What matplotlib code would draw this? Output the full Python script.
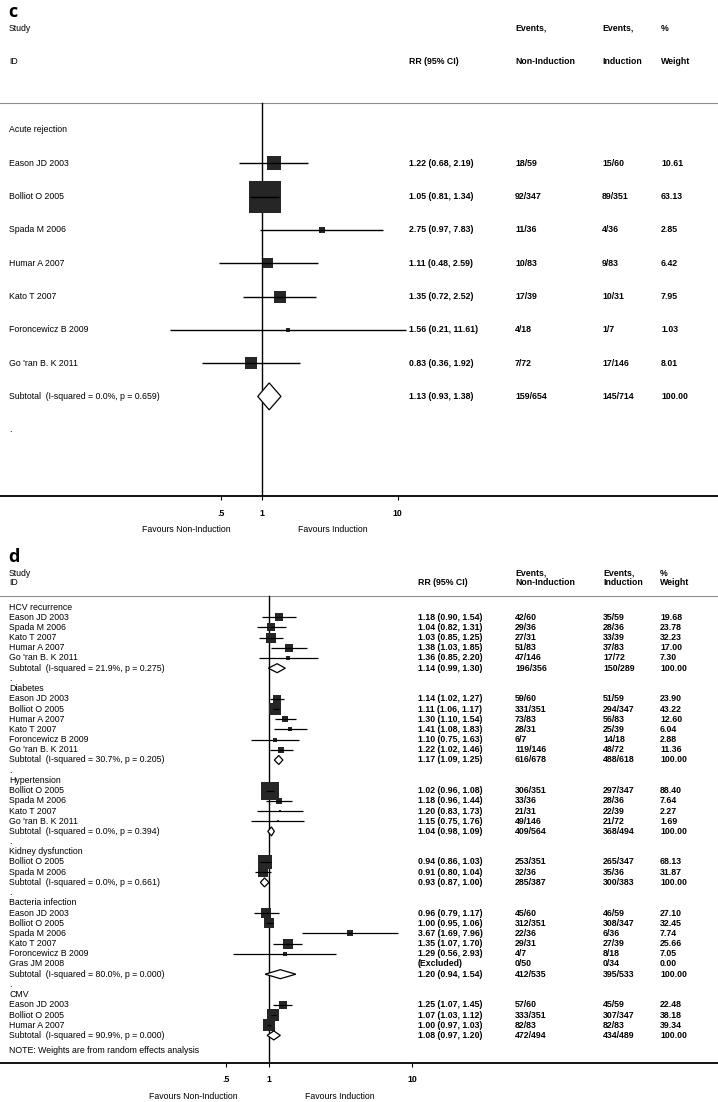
import numpy as np
import matplotlib.pyplot as plt
from matplotlib.transforms import blended_transform_factory

plt.rcParams['font.family'] = ['Liberation Sans', 'DejaVu Sans']

# ---------------- panel c : acute rejection ----------------
c_group = "Acute rejection"
c_study = ["Eason JD 2003", "Bolliot O 2005", "Spada M 2006", "Humar A 2007",
           "Kato T 2007", "Foroncewicz B 2009", "Go 'ran B. K 2011"]
c_rr = [1.22, 1.05, 2.75, 1.11, 1.35, 1.56, 0.83]
c_lo = [0.68, 0.81, 0.97, 0.48, 0.72, 0.21, 0.36]
c_hi = [2.19, 1.34, 7.83, 2.59, 2.52, 11.61, 1.92]
c_ev_non = ["18/59", "92/347", "11/36", "10/83", "17/39", "4/18", "7/72"]
c_ev_ind = ["15/60", "89/351", "4/36", "9/83", "10/31", "1/7", "17/146"]
c_weight = [10.61, 63.13, 2.85, 6.42, 7.95, 1.03, 8.01]
c_sub_i2 = "0.0%"
c_sub_p = "0.659"
c_sub_rr = [1.13, 0.93, 1.38]
c_sub_ev = ["159/654", "145/714"]

# ---------------- panel d : other outcomes ----------------
d_groups = ["HCV recurrence", "Diabetes", "Hypertension", "Kidney dysfunction",
            "Bacteria infection", "CMV"]
d_group_of = [0, 0, 0, 0, 0,
              1, 1, 1, 1, 1, 1,
              2, 2, 2, 2,
              3, 3,
              4, 4, 4, 4, 4, 4,
              5, 5, 5]
d_study = ["Eason JD 2003", "Spada M 2006", "Kato T 2007", "Humar A 2007", "Go 'ran B. K 2011",
           "Eason JD 2003", "Bolliot O 2005", "Humar A 2007", "Kato T 2007", "Foroncewicz B 2009", "Go 'ran B. K 2011",
           "Bolliot O 2005", "Spada M 2006", "Kato T 2007", "Go 'ran B. K 2011",
           "Bolliot O 2005", "Spada M 2006",
           "Eason JD 2003", "Bolliot O 2005", "Spada M 2006", "Kato T 2007", "Foroncewicz B 2009", "Gras JM 2008",
           "Eason JD 2003", "Bolliot O 2005", "Humar A 2007"]
d_rr = [1.18, 1.04, 1.03, 1.38, 1.36,
        1.14, 1.11, 1.30, 1.41, 1.10, 1.22,
        1.02, 1.18, 1.20, 1.15,
        0.94, 0.91,
        0.96, 1.00, 3.67, 1.35, 1.29, np.nan,
        1.25, 1.07, 1.00]
d_lo = [0.90, 0.82, 0.85, 1.03, 0.85,
        1.02, 1.06, 1.10, 1.08, 0.75, 1.02,
        0.96, 0.96, 0.83, 0.75,
        0.86, 0.80,
        0.79, 0.95, 1.69, 1.07, 0.56, np.nan,
        1.07, 1.03, 0.97]
d_hi = [1.54, 1.31, 1.25, 1.85, 2.20,
        1.27, 1.17, 1.54, 1.83, 1.63, 1.46,
        1.08, 1.44, 1.73, 1.76,
        1.03, 1.04,
        1.17, 1.06, 7.96, 1.70, 2.93, np.nan,
        1.45, 1.12, 1.03]
d_ev_non = ["42/60", "29/36", "27/31", "51/83", "47/146",
            "59/60", "331/351", "73/83", "28/31", "6/7", "119/146",
            "306/351", "33/36", "21/31", "49/146",
            "253/351", "32/36",
            "45/60", "312/351", "22/36", "29/31", "4/7", "0/50",
            "57/60", "333/351", "82/83"]
d_ev_ind = ["35/59", "28/36", "33/39", "37/83", "17/72",
            "51/59", "294/347", "56/83", "25/39", "14/18", "48/72",
            "297/347", "28/36", "22/39", "21/72",
            "265/347", "35/36",
            "46/59", "308/347", "6/36", "27/39", "8/18", "0/34",
            "45/59", "307/347", "82/83"]
d_weight = [19.68, 23.78, 32.23, 17.00, 7.30,
            23.90, 43.22, 12.60, 6.04, 2.88, 11.36,
            88.40, 7.64, 2.27, 1.69,
            68.13, 31.87,
            27.10, 32.45, 7.74, 25.66, 7.05, 0.00,
            22.48, 38.18, 39.34]
d_sub_i2 = ["21.9%", "30.7%", "0.0%", "0.0%", "80.0%", "90.9%"]
d_sub_p = ["0.275", "0.205", "0.394", "0.661", "0.000", "0.000"]
d_sub_rr = [1.14, 1.17, 1.04, 0.93, 1.20, 1.08]
d_sub_lo = [0.99, 1.09, 0.98, 0.87, 0.94, 0.97]
d_sub_hi = [1.30, 1.25, 1.09, 1.00, 1.54, 1.20]
d_sub_ev_non = ["196/356", "616/678", "409/564", "285/387", "412/535", "472/494"]
d_sub_ev_ind = ["150/289", "488/618", "368/494", "300/383", "395/533", "434/489"]

xticks = [0.5, 1, 10]
xtick_labels = [".5", "1", "10"]

W, H = 718, 1102
FS = 6.3
fig = plt.figure(figsize=(W / 100, H / 100), dpi=100)


def make_axes(top, bottom, r0, step, one_px, decade_px):
    ax = fig.add_axes([0, 1 - bottom / H, 1, (bottom - top) / H])
    ax.set_xscale('log')
    ax.set_xlim(10 ** (-one_px / decade_px), 10 ** ((W - one_px) / decade_px))
    ax.set_ylim((bottom - r0) / step, (top - r0) / step)
    for s in ['top', 'left', 'right']:
        ax.spines[s].set_visible(False)
    ax.spines['bottom'].set_linewidth(1.3)
    ax.set_yticks([])
    ax.set_xticks(xticks)
    ax.set_xticklabels(xtick_labels, fontsize=FS, fontweight='bold')
    ax.minorticks_off()
    ax.tick_params(axis='x', length=3, width=0.8, pad=6)
    return ax


def table_row(ax, y, label, rr_txt, ev1, ev2, wt, cols, bold_label=False):
    tr = blended_transform_factory(ax.transAxes, ax.transData)
    ax.text(9 / W, y, label, transform=tr, fontsize=FS, va='center', ha='left',
            fontweight='bold' if bold_label else 'normal')
    for x, t in zip(cols, [rr_txt, ev1, ev2, wt]):
        if t:
            ax.text(x / W, y, t, transform=tr, fontsize=FS, va='center', ha='left',
                    fontweight='bold')


def study(ax, y, rr, lo, hi, w, k, lw):
    if np.isnan(rr):
        return
    ax.plot([lo, hi], [y, y], color='black', lw=lw, zorder=3, solid_capstyle='butt')
    side = k * np.sqrt(w) * 0.72
    ax.scatter([rr], [y], marker='s', s=side ** 2, color='#262626', linewidths=0, zorder=2)


def diamond(ax, y, rr, lo, hi, h):
    ax.fill([lo, rr, hi, rr, lo], [y, y - h / 2, y, y + h / 2, y],
            facecolor='white', edgecolor='black', lw=0.9, zorder=3)


def fmt(rr, lo, hi):
    if np.isnan(rr):
        return "(Excluded)"
    return f"{rr:.2f} ({lo:.2f}, {hi:.2f})"


# ---------------- draw panel c ----------------
c_cols = [409, 515, 602, 661]
axc = make_axes(0, 496, 130, 33.3, 262, 135.5)
table_row(axc, -3.05, "Study", "", "Events,", "Events,", "%", c_cols)
table_row(axc, -2.05, "ID", "RR (95% CI)", "Non-Induction", "Induction", "Weight", c_cols)
axc.axhline(-0.8, color='#8c8c8c', lw=0.8)
axc.plot([1, 1], [-0.8, 11], color='black', lw=1.0)
table_row(axc, 0, c_group, "", "", "", "", c_cols)
for i in range(len(c_study)):
    y = i + 1
    table_row(axc, y, c_study[i], fmt(c_rr[i], c_lo[i], c_hi[i]),
              c_ev_non[i], c_ev_ind[i], f"{c_weight[i]:.2f}", c_cols)
    study(axc, y, c_rr[i], c_lo[i], c_hi[i], c_weight[i], 4.03, 1.0)
ys = len(c_study) + 1
table_row(axc, ys, f"Subtotal  (I-squared = {c_sub_i2}, p = {c_sub_p})",
          fmt(*c_sub_rr), c_sub_ev[0], c_sub_ev[1], "100.00", c_cols)
diamond(axc, ys, c_sub_rr[0], c_sub_rr[1], c_sub_rr[2], 0.81)
table_row(axc, ys + 1, ".", "", "", "", "", c_cols)
trc = blended_transform_factory(axc.transAxes, axc.transData)
axc.text(186 / W, 12.0, "Favours Non-Induction", transform=trc, fontsize=FS,
         ha='center', va='center', clip_on=False)
axc.text(333 / W, 12.0, "Favours Induction", transform=trc, fontsize=FS,
         ha='center', va='center', clip_on=False)

# ---------------- draw panel d ----------------
d_cols = [418, 515, 603, 660]
axd = make_axes(545, 1063, 607, 10.2, 269, 143)
table_row(axd, -3.3, "Study", "", "Events,", "Events,", "%", d_cols)
table_row(axd, -2.4, "ID", "RR (95% CI)", "Non-Induction", "Induction", "Weight", d_cols)
axd.axhline(-1.1, color='#8c8c8c', lw=0.8)
axd.plot([1, 1], [-1.1, 44.7], color='black', lw=1.0)
y = 0
for g, gname in enumerate(d_groups):
    table_row(axd, y, gname, "", "", "", "", d_cols)
    y += 1
    for i in [j for j, gg in enumerate(d_group_of) if gg == g]:
        table_row(axd, y, d_study[i], fmt(d_rr[i], d_lo[i], d_hi[i]),
                  d_ev_non[i], d_ev_ind[i], f"{d_weight[i]:.2f}", d_cols)
        study(axd, y, d_rr[i], d_lo[i], d_hi[i], d_weight[i], 1.81, 0.9)
        y += 1
    table_row(axd, y, f"Subtotal  (I-squared = {d_sub_i2[g]}, p = {d_sub_p[g]})",
              fmt(d_sub_rr[g], d_sub_lo[g], d_sub_hi[g]),
              d_sub_ev_non[g], d_sub_ev_ind[g], "100.00", d_cols)
    diamond(axd, y, d_sub_rr[g], d_sub_lo[g], d_sub_hi[g], 0.88)
    y += 1
    if g < len(d_groups) - 1:
        table_row(axd, y, ".", "", "", "", "", d_cols)
        y += 1
table_row(axd, y + 0.45, "NOTE: Weights are from random effects analysis", "", "", "", "", d_cols)
trd = blended_transform_factory(axd.transAxes, axd.transData)
axd.text(193 / W, 48.0, "Favours Non-Induction", transform=trd, fontsize=FS,
         ha='center', va='center', clip_on=False)
axd.text(340 / W, 48.0, "Favours Induction", transform=trd, fontsize=FS,
         ha='center', va='center', clip_on=False)

# panel letters
fig.text(8 / W, 1 - 12 / H, "c", fontsize=13, fontweight='bold', va='center',
         family=['Open Sans', 'DejaVu Sans'])
fig.text(8 / W, 1 - 557 / H, "d", fontsize=13, fontweight='bold', va='center',
         family=['Open Sans', 'DejaVu Sans'])

fig.savefig('out.png', dpi=100)
